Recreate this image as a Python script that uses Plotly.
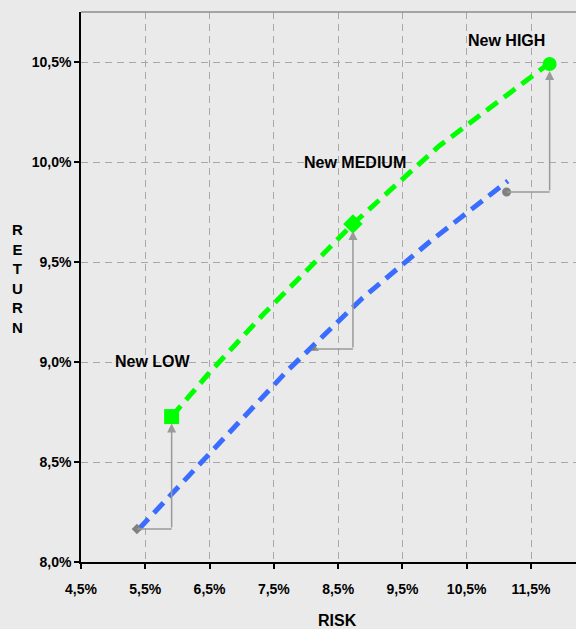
import plotly.graph_objects as go

# ---- data ----
x_ticks = [4.5, 5.5, 6.5, 7.5, 8.5, 9.5, 10.5, 11.5]
x_ticktext = ["4,5%", "5,5%", "6,5%", "7,5%", "8,5%", "9,5%", "10,5%", "11,5%"]
y_ticks = [8.0, 8.5, 9.0, 9.5, 10.0, 10.5]
y_ticktext = ["8,0%", "8,5%", "9,0%", "9,5%", "10,0%", "10,5%"]

old_risk = [5.40, 6.46, 7.72, 8.88, 9.92, 11.14]
old_return = [8.165, 8.53, 8.96, 9.32, 9.60, 9.905]

new_risk = [5.91, 6.48, 7.34, 8.73, 10.07, 11.58, 11.77]
new_return = [8.727, 8.94, 9.24, 9.69, 10.08, 10.44, 10.49]

portfolios = ["LOW", "MEDIUM", "HIGH"]
old_pt_risk = [5.37, 8.14, 11.12]
old_pt_return = [8.165, 9.065, 9.85]
new_pt_risk = [5.91, 8.73, 11.79]
new_pt_return = [8.727, 9.69, 10.49]
labels = ["New LOW", "New MEDIUM", "New HIGH"]

# ---- style ----
FONT = "Liberation Sans, Arial, sans-serif"
BG = "#eaeaea"
ARROW = "#9a9a9a"
old_symbols = ["diamond", "triangle-up", "circle"]
old_sizes = [8, 7, 9]
new_symbols = ["square", "diamond", "circle"]
new_sizes = [15, 15, 14]
label_offsets = [(-19, 55), (2, 62), (-43, 24)]

fig = go.Figure()

fig.add_trace(go.Scatter(x=old_risk, y=old_return, mode="lines",
                         line=dict(color="#3a6cff", width=5, dash="14px,8px"),
                         hoverinfo="skip", showlegend=False))
fig.add_trace(go.Scatter(x=new_risk, y=new_return, mode="lines",
                         line=dict(color="#00ff00", width=5, dash="14px,8px"),
                         hoverinfo="skip", showlegend=False))

for i in range(len(portfolios)):
    fig.add_shape(type="line", xref="x", yref="y",
                  x0=old_pt_risk[i], y0=old_pt_return[i],
                  x1=new_pt_risk[i], y1=old_pt_return[i],
                  line=dict(color=ARROW, width=1.5), layer="above")
    fig.add_annotation(x=new_pt_risk[i], y=new_pt_return[i], xref="x", yref="y",
                       ax=new_pt_risk[i], ay=old_pt_return[i], axref="x", ayref="y",
                       showarrow=True, arrowhead=2, arrowsize=1.2, arrowwidth=1.5,
                       arrowcolor=ARROW, standoff=7, text="")

fig.add_trace(go.Scatter(x=old_pt_risk, y=old_pt_return, mode="markers",
                         marker=dict(color="#808080", size=old_sizes, symbol=old_symbols,
                                     opacity=1, line=dict(width=0)),
                         hoverinfo="skip", showlegend=False))
fig.add_trace(go.Scatter(x=new_pt_risk, y=new_pt_return, mode="markers",
                         marker=dict(color="#00ff00", size=new_sizes, symbol=new_symbols,
                                     opacity=1, line=dict(width=0)),
                         hoverinfo="skip", showlegend=False))

for i, lab in enumerate(labels):
    dx, dy = label_offsets[i]
    fig.add_annotation(x=new_pt_risk[i], y=new_pt_return[i], xref="x", yref="y",
                       text=f"<b>{lab}</b>", showarrow=False,
                       xshift=dx, yshift=dy, xanchor="center", yanchor="middle",
                       font=dict(family=FONT, size=16, color="black"))

fig.add_annotation(x=0.519, y=-0.107, xref="paper", yref="paper",
                   xanchor="center", yanchor="middle",
                   text="<b>RISK</b>", showarrow=False,
                   font=dict(family=FONT, size=16, color="black"))
fig.add_annotation(x=-0.129, y=0.516, xref="paper", yref="paper",
                   xanchor="center", yanchor="middle",
                   text="<b>R<br>E<br>T<br>U<br>R<br>N</b>", showarrow=False,
                   font=dict(family=FONT, size=15, color="black"))

fig.add_shape(type="line", xref="paper", yref="paper", x0=0, x1=1, y0=1, y1=1,
              line=dict(color="#8c8c8c", width=1.5))

fig.update_layout(
    width=576, height=629,
    margin=dict(l=81, r=0, t=12, b=67),
    paper_bgcolor=BG, plot_bgcolor=BG,
    font=dict(family=FONT, size=14, color="black"),
    xaxis=dict(range=[4.5, 12.2], tickvals=x_ticks, ticktext=x_ticktext,
               showgrid=True, gridcolor="#a8a8a8", gridwidth=1, griddash="7px,5px",
               showline=True, linecolor="black", linewidth=1.5,
               ticks="outside", ticklen=5, tickcolor="black", tickwidth=1.5,
               zeroline=False, ticklabelstandoff=8,
               tickfont=dict(family=FONT, size=14, weight="bold")),
    yaxis=dict(range=[8.0, 10.75], tickvals=y_ticks, ticktext=y_ticktext,
               showgrid=True, gridcolor="#a8a8a8", gridwidth=1, griddash="7px,5px",
               showline=True, linecolor="black", linewidth=1.5,
               ticks="outside", ticklen=5, tickcolor="black", tickwidth=1.5,
               zeroline=False,
               tickfont=dict(family=FONT, size=14, weight="bold")),
)

fig.write_html("out.html", config={"displayModeBar": False},
               post_script="document.body.style.margin='0';"
                           "document.body.style.background='#eaeaea';")
